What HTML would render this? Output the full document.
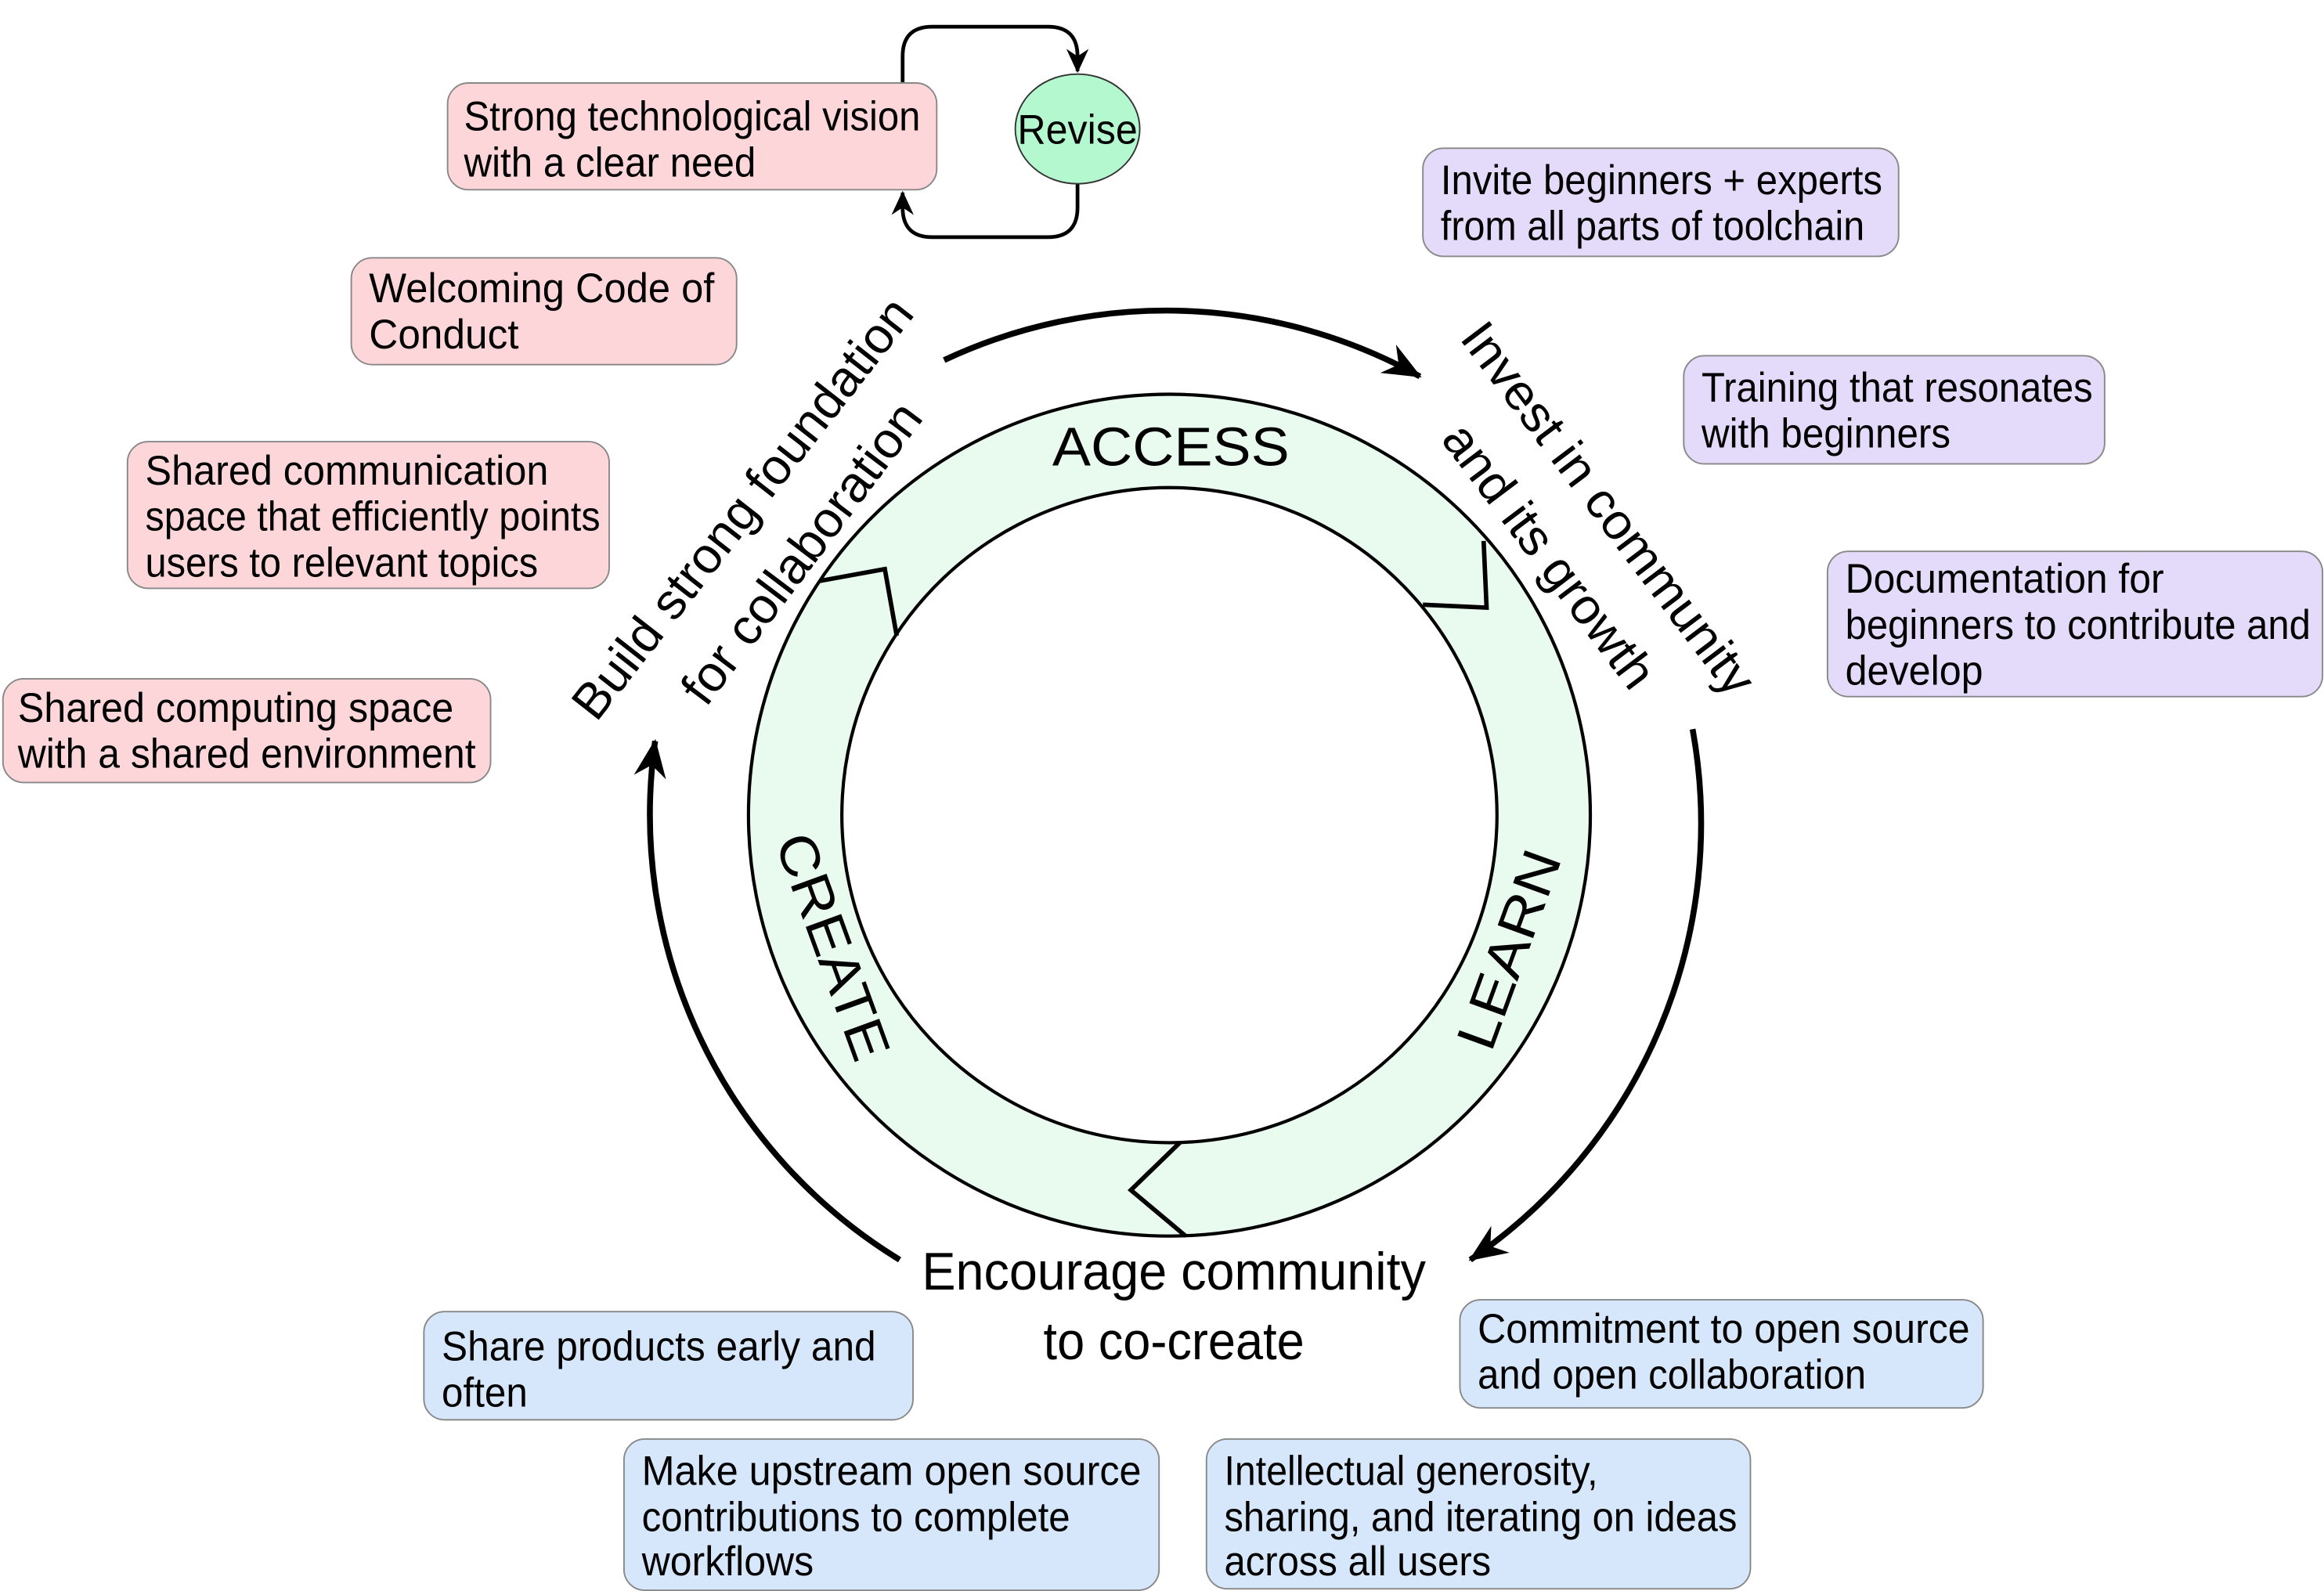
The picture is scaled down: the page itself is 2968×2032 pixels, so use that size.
<!DOCTYPE html>
<html><head><meta charset="utf-8"><style>
html,body{margin:0;padding:0;background:#fff;}
svg{display:block;}
text{font-family:"Liberation Sans",Arial,sans-serif;fill:#000;}
.b{font-size:28px;}
</style></head><body>
<svg width="2968" height="2032" viewBox="0 0 1568 1073.5" preserveAspectRatio="none" xmlns="http://www.w3.org/2000/svg">
<defs>
<marker id="ah" markerUnits="userSpaceOnUse" markerWidth="30" markerHeight="30" refX="0" refY="0" viewBox="-20 -10 22 20" orient="auto">
<path d="M1,0 L-18,-8 L-12,0 L-18,8 Z" fill="#000"/>
</marker>
<marker id="as" markerUnits="userSpaceOnUse" markerWidth="20" markerHeight="20" refX="0" refY="0" viewBox="-14 -7 16 14" orient="auto">
<path d="M1,0 L-12,-6 L-8,0 L-12,6 Z" fill="#000"/>
</marker>
</defs>

<!-- ring -->
<path fill-rule="evenodd" fill="#e9faef" stroke="#000" stroke-width="2.2" d="M789,266 a284,284 0 1,1 -0.01,0 Z M789,329 a221,221 0 1,0 0.01,0 Z"/>
<polyline points="553,392 597,384 605,429" fill="none" stroke="#000" stroke-width="3"/>
<polyline points="1001,365 1003,410 960,408" fill="none" stroke="#000" stroke-width="3"/>
<polyline points="796,771 763,803 800,834" fill="none" stroke="#000" stroke-width="3"/>
<text x="790" y="314" font-size="37" text-anchor="middle" textLength="160" lengthAdjust="spacingAndGlyphs">ACCESS</text>
<text transform="translate(1030,645) rotate(-70)" font-size="37" text-anchor="middle" textLength="140" lengthAdjust="spacingAndGlyphs">LEARN</text>
<text transform="translate(550,643) rotate(70)" font-size="37" text-anchor="middle" textLength="160" lengthAdjust="spacingAndGlyphs">CREATE</text>

<!-- outer arcs -->
<path d="M637,243 A352,352 0 0,1 958,254" fill="none" stroke="#000" stroke-width="4" marker-end="url(#ah)"/>
<path d="M1142,492 A356,356 0 0,1 992,850" fill="none" stroke="#000" stroke-width="4" marker-end="url(#ah)"/>
<path d="M607,850 A352,352 0 0,1 442,500" fill="none" stroke="#000" stroke-width="4" marker-end="url(#ah)"/>

<!-- rotated phrases -->
<text transform="translate(510,350) rotate(-52)" font-size="34" text-anchor="middle" textLength="350" lengthAdjust="spacingAndGlyphs">Build strong foundation</text>
<text transform="translate(550,380) rotate(-53)" font-size="34" text-anchor="middle" textLength="245" lengthAdjust="spacingAndGlyphs">for collaboration</text>
<text transform="translate(1076,350) rotate(53)" font-size="34" text-anchor="middle" textLength="305" lengthAdjust="spacingAndGlyphs">Invest in community</text>
<text transform="translate(1036,382) rotate(53)" font-size="34" text-anchor="middle" textLength="214" lengthAdjust="spacingAndGlyphs">and its growth</text>
<text x="792" y="870" font-size="36" text-anchor="middle" textLength="340" lengthAdjust="spacingAndGlyphs">Encourage community</text>
<text x="792" y="917" font-size="36" text-anchor="middle" textLength="176" lengthAdjust="spacingAndGlyphs">to co-create</text>

<!-- revise loop -->
<path d="M609,56 V38 Q609,18 629,18 H707 Q727,18 727,38 V48" fill="none" stroke="#000" stroke-width="2.5" marker-end="url(#as)"/>
<path d="M727,124 V140 Q727,160 707,160 H629 Q609,160 609,140 V130" fill="none" stroke="#000" stroke-width="2.5" marker-end="url(#as)"/>
<ellipse cx="727" cy="87" rx="42" ry="37" fill="#b3f8cf" stroke="#333" stroke-width="1"/>
<text x="727" y="97" font-size="28" text-anchor="middle" textLength="81" lengthAdjust="spacingAndGlyphs">Revise</text>

<!-- pink boxes -->
<g fill="#fdd6da" stroke="#888" stroke-width="1">
<rect x="302" y="56" width="330" height="72" rx="14"/>
<rect x="237" y="174" width="260" height="72" rx="14"/>
<rect x="86" y="298" width="325" height="99" rx="14"/>
<rect x="2" y="458" width="329" height="70" rx="14"/>
</g>
<g fill="#e4dafa" stroke="#888" stroke-width="1">
<rect x="960" y="100" width="321" height="73" rx="14"/>
<rect x="1136" y="240" width="284" height="73" rx="14"/>
<rect x="1233" y="372" width="334" height="98" rx="14"/>
</g>
<g fill="#d7e7fb" stroke="#888" stroke-width="1">
<rect x="985" y="877" width="353" height="73" rx="14"/>
<rect x="286" y="885" width="330" height="73" rx="14"/>
<rect x="421" y="971" width="361" height="102" rx="14"/>
<rect x="814" y="971" width="367" height="101" rx="14"/>
</g>

<g class="b" lengthAdjust="spacingAndGlyphs">
<text x="313" y="88" textLength="308" lengthAdjust="spacingAndGlyphs">Strong technological vision</text>
<text x="313" y="119" textLength="197" lengthAdjust="spacingAndGlyphs">with a clear need</text>
<text x="249" y="204" textLength="233" lengthAdjust="spacingAndGlyphs">Welcoming Code of</text>
<text x="249" y="235" textLength="101" lengthAdjust="spacingAndGlyphs">Conduct</text>
<text x="98" y="327" textLength="272" lengthAdjust="spacingAndGlyphs">Shared communication</text>
<text x="98" y="358" textLength="307" lengthAdjust="spacingAndGlyphs">space that efficiently points</text>
<text x="98" y="389" textLength="265" lengthAdjust="spacingAndGlyphs">users to relevant topics</text>
<text x="12" y="487" textLength="294" lengthAdjust="spacingAndGlyphs">Shared computing space</text>
<text x="12" y="518" textLength="309" lengthAdjust="spacingAndGlyphs">with a shared environment</text>

<text x="972" y="131" textLength="298" lengthAdjust="spacingAndGlyphs">Invite beginners + experts</text>
<text x="972" y="162" textLength="286" lengthAdjust="spacingAndGlyphs">from all parts of toolchain</text>
<text x="1148" y="271" textLength="264" lengthAdjust="spacingAndGlyphs">Training that resonates</text>
<text x="1148" y="302" textLength="168" lengthAdjust="spacingAndGlyphs">with beginners</text>
<text x="1245" y="400" textLength="215" lengthAdjust="spacingAndGlyphs">Documentation for</text>
<text x="1245" y="431" textLength="314" lengthAdjust="spacingAndGlyphs">beginners to contribute and</text>
<text x="1245" y="462" textLength="93" lengthAdjust="spacingAndGlyphs">develop</text>

<text x="997" y="906" textLength="332" lengthAdjust="spacingAndGlyphs">Commitment to open source</text>
<text x="997" y="937" textLength="262" lengthAdjust="spacingAndGlyphs">and open collaboration</text>
<text x="298" y="918" textLength="293" lengthAdjust="spacingAndGlyphs">Share products early and</text>
<text x="298" y="949" textLength="58" lengthAdjust="spacingAndGlyphs">often</text>
<text x="433" y="1002" textLength="337" lengthAdjust="spacingAndGlyphs">Make upstream open source</text>
<text x="433" y="1033" textLength="289" lengthAdjust="spacingAndGlyphs">contributions to complete</text>
<text x="433" y="1063" textLength="116" lengthAdjust="spacingAndGlyphs">workflows</text>
<text x="826" y="1002" textLength="252" lengthAdjust="spacingAndGlyphs">Intellectual generosity,</text>
<text x="826" y="1033" textLength="346" lengthAdjust="spacingAndGlyphs">sharing, and iterating on ideas</text>
<text x="826" y="1063" textLength="180" lengthAdjust="spacingAndGlyphs">across all users</text>
</g>
</svg>
</body></html>
